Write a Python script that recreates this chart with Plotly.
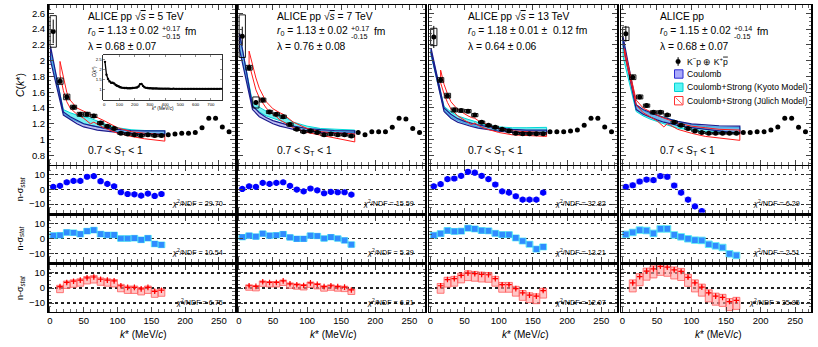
import plotly.graph_objects as go

# ---------------- data ----------------
K_DATA = [5, 15, 25, 35, 45, 55, 65, 75, 85, 95, 105, 115, 125, 135, 145, 155, 165,
          175, 185, 195, 205, 215, 225, 235, 245, 255, 265]

C_5TEV = [2.37, 1.74, 1.54, 1.41, 1.32, 1.32, 1.30, 1.21, 1.17, 1.14, 1.08, 1.07, 1.06, 1.05,
          1.06, 1.05, 1.05, 1.06, 1.07, 1.08, 1.08, 1.09, 1.15, 1.27, 1.27, 1.16, 1.10]
C_7TEV = [2.31, 1.91, 1.47, 1.50, 1.35, 1.32, 1.29, 1.19, 1.13, 1.10, 1.11, 1.09, 1.06, 1.07,
          1.06, 1.06, 1.045, 1.09, 1.06, 1.10, 1.10, 1.10, 1.155, 1.27, 1.26, 1.14, 1.09]
C_13TEV = [2.30, 1.755, 1.556, 1.375, 1.367, 1.36, 1.31, 1.22, 1.18, 1.155, 1.13, 1.11, 1.08,
           1.075, 1.075, 1.075, 1.075, 1.10, 1.10, 1.10, 1.11, 1.12, 1.18, 1.27, 1.27, 1.16, 1.10]
C_ALL = [2.34, 1.79, 1.54, 1.43, 1.345, 1.345, 1.31, 1.22, 1.18, 1.14, 1.11, 1.09, 1.08, 1.08,
         1.08, 1.08, 1.08, 1.09, 1.09, 1.10, 1.10, 1.12, 1.16, 1.27, 1.27, 1.155, 1.10]

STAT_5TEV = [0.15, 0.04, 0.03, 0.02, 0.02, 0.02, 0.015, 0.015, 0.012, 0.012, 0.01, 0.01, 0.01,
             0.01, 0.01, 0.01, 0.01, 0.01, 0.01, 0.01, 0.01, 0.01, 0.01, 0.012, 0.012, 0.01, 0.01]
STAT_7TEV = [0.12, 0.04, 0.03, 0.02, 0.02, 0.02, 0.015, 0.015, 0.012, 0.012, 0.01, 0.01, 0.01,
             0.01, 0.01, 0.01, 0.01, 0.01, 0.01, 0.01, 0.01, 0.01, 0.01, 0.012, 0.012, 0.01, 0.01]
STAT_13TEV = [0.14, 0.03, 0.02, 0.015, 0.015, 0.012, 0.01, 0.01, 0.01, 0.01, 0.008, 0.008, 0.008,
              0.008, 0.008, 0.008, 0.008, 0.008, 0.008, 0.008, 0.008, 0.008, 0.008, 0.01, 0.01, 0.008, 0.008]
STAT_ALL = [0.10, 0.03, 0.02, 0.015, 0.012, 0.01, 0.01, 0.008, 0.008, 0.008, 0.006, 0.006, 0.006,
            0.006, 0.006, 0.006, 0.006, 0.006, 0.006, 0.006, 0.006, 0.006, 0.006, 0.008, 0.008, 0.006, 0.006]

# systematic uncertainties (boxes) for the fitted range k* < 170 MeV/c
SYST_5TEV = [0.20, 0.04, 0.035, 0.025, 0.025, 0.025, 0.02, 0.02, 0.015, 0.015, 0.015, 0.015,
             0.015, 0.015, 0.015, 0.015, 0.015]
SYST_7TEV = [0.27, 0.03, 0.07, 0.025, 0.02, 0.02, 0.02, 0.02, 0.015, 0.015, 0.015, 0.015,
             0.015, 0.015, 0.015, 0.015, 0.015]
SYST_13TEV = [0.11, 0.03, 0.03, 0.025, 0.02, 0.02, 0.02, 0.015, 0.015, 0.015, 0.015, 0.015,
              0.015, 0.015, 0.015, 0.015, 0.015]
SYST_ALL = [0.085, 0.03, 0.025, 0.02, 0.02, 0.02, 0.015, 0.015, 0.015, 0.015, 0.012, 0.012,
            0.012, 0.012, 0.012, 0.012, 0.012]

# model bands
K_MODEL = [1, 20, 30, 40, 50, 60, 70, 80, 100, 120, 140, 170]
COUL_LO_5TEV = [2.00, 1.31, 1.25, 1.20, 1.16, 1.14, 1.12, 1.11, 1.09, 1.08, 1.07, 1.07]
COUL_HI_5TEV = [2.18, 1.35, 1.29, 1.24, 1.20, 1.18, 1.16, 1.145, 1.13, 1.115, 1.11, 1.11]
KYOTO_LO_5TEV = [2.05, 1.33, 1.27, 1.23, 1.20, 1.18, 1.16, 1.14, 1.10, 1.08, 1.075, 1.075]
KYOTO_HI_5TEV = [2.13, 1.38, 1.34, 1.31, 1.29, 1.27, 1.235, 1.20, 1.15, 1.125, 1.115, 1.11]
COUL_LO_7TEV = [2.14, 1.38, 1.29, 1.24, 1.20, 1.17, 1.15, 1.13, 1.11, 1.09, 1.085, 1.08]
COUL_HI_7TEV = [2.35, 1.43, 1.34, 1.28, 1.24, 1.21, 1.19, 1.17, 1.14, 1.125, 1.115, 1.11]
KYOTO_LO_7TEV = [2.16, 1.42, 1.35, 1.30, 1.27, 1.24, 1.21, 1.17, 1.13, 1.11, 1.10, 1.09]
KYOTO_HI_7TEV = [2.33, 1.47, 1.41, 1.36, 1.33, 1.30, 1.27, 1.22, 1.17, 1.14, 1.13, 1.12]
COUL_LO_13TEV = [2.09, 1.355, 1.27, 1.22, 1.19, 1.165, 1.145, 1.13, 1.105, 1.09, 1.085, 1.08]
COUL_HI_13TEV = [2.16, 1.40, 1.32, 1.265, 1.23, 1.205, 1.185, 1.17, 1.145, 1.13, 1.12, 1.12]
KYOTO_LO_13TEV = [2.07, 1.375, 1.29, 1.24, 1.21, 1.18, 1.16, 1.14, 1.11, 1.10, 1.10, 1.10]
KYOTO_HI_13TEV = [2.13, 1.42, 1.35, 1.30, 1.27, 1.24, 1.21, 1.19, 1.16, 1.15, 1.15, 1.155]
COUL_LO_ALL = [2.20, 1.38, 1.32, 1.28, 1.25, 1.22, 1.20, 1.18, 1.15, 1.13, 1.11, 1.08]
COUL_HI_ALL = [2.30, 1.44, 1.38, 1.34, 1.31, 1.28, 1.25, 1.23, 1.20, 1.185, 1.175, 1.17]
KYOTO_LO_ALL = [2.05, 1.355, 1.30, 1.26, 1.23, 1.20, 1.17, 1.145, 1.12, 1.10, 1.09, 1.08]
KYOTO_HI_ALL = [2.26, 1.42, 1.37, 1.33, 1.31, 1.28, 1.25, 1.23, 1.19, 1.165, 1.16, 1.155]

K_JUL = [15, 20, 25, 30, 40, 50, 55, 60, 65, 70, 80, 100, 120, 140, 170]
JUL_HI_5TEV = [1.99, 1.80, 1.60, 1.50, 1.40, 1.36, 1.34, 1.32, 1.31, 1.28, 1.24, 1.15, 1.10, 1.08, 1.06]
JUL_LO_5TEV = [1.82, 1.62, 1.48, 1.40, 1.32, 1.27, 1.24, 1.20, 1.22, 1.19, 1.15, 1.08, 1.04, 1.01, 0.98]
JUL_HI_7TEV = [2.12, 1.95, 1.78, 1.65, 1.48, 1.39, 1.36, 1.34, 1.32, 1.29, 1.22, 1.14, 1.10, 1.085, 1.07]
JUL_LO_7TEV = [1.96, 1.78, 1.63, 1.53, 1.40, 1.32, 1.29, 1.25, 1.23, 1.20, 1.15, 1.09, 1.05, 1.02, 0.97]
JUL_HI_13TEV = [1.88, 1.70, 1.58, 1.48, 1.38, 1.32, 1.30, 1.28, 1.27, 1.24, 1.20, 1.14, 1.11, 1.10, 1.09]
JUL_LO_13TEV = [1.72, 1.58, 1.47, 1.39, 1.30, 1.25, 1.22, 1.19, 1.21, 1.18, 1.14, 1.09, 1.06, 1.05, 1.04]
K_JUL_ALL = [3, 20, 30, 40, 50, 55, 60, 65, 70, 80, 100, 120, 140, 170]
JUL_HI_ALL = [2.15, 1.50, 1.40, 1.35, 1.31, 1.29, 1.27, 1.26, 1.24, 1.21, 1.17, 1.15, 1.13, 1.12]
JUL_LO_ALL = [2.08, 1.44, 1.34, 1.29, 1.24, 1.20, 1.16, 1.20, 1.18, 1.13, 1.08, 1.04, 1.02, 0.99]

# n-sigma deviations
K_RES = [5, 15, 25, 35, 45, 55, 65, 75, 85, 95, 105, 115, 125, 135, 145, 155, 165]
NS_COUL_5TEV = [1.6, 2.3, 4.7, 5.6, 5.6, 8.4, 8.8, 5.4, 3.6, 2.0, -2.0, -3.2, -3.4, -4.3, -2.9, -4.5, -3.2]
NS_KYOTO_5TEV = [2.0, 2.2, 4.1, 3.9, 3.0, 5.0, 5.7, 3.0, 2.4, 2.4, 0.0, 0.0, 0.2, -0.9, 0.2, -3.7, -4.3]
NS_JUL_5TEV = [0.9, 3.7, 4.5, 5.2, 6.7, 7.3, 5.8, 5.2, 4.7, 1.5, 0.4, 0.4, -0.6, 0.4, -2.2, -1.5]
NS_COUL_7TEV = [0.2, 2.0, 1.6, 4.3, 3.6, 4.3, 4.7, 2.3, -0.2, -1.4, 0.5, -0.7, -2.7, -1.8, -2.0, -2.0, -3.6]
NS_KYOTO_7TEV = [0.9, 2.0, 1.3, 3.3, 2.0, 2.2, 3.0, 0.7, -0.2, -0.2, 2.0, 1.7, 0.0, 0.9, 0.0, -1.3, -4.1]
NS_JUL_7TEV = [1.5, 1.1, 4.1, 3.7, 3.7, 4.7, 2.8, 2.2, 1.7, 3.4, 2.4, 0.9, 1.5, 0.9, 0.6, -1.3]
NS_COUL_13TEV = [2.0, 3.4, 6.8, 7.2, 9.0, 11.7, 11.1, 9.0, 6.8, 3.2, -1.4, -2.3, -4.7, -7.0, -7.0, -7.0, -2.3]
NS_KYOTO_13TEV = [2.2, 3.3, 5.4, 4.8, 5.0, 7.0, 6.5, 5.4, 5.2, 3.5, 2.6, 2.6, 0.4, -1.7, -3.9, -7.2, -5.7]
NS_JUL_13TEV = [1.5, 5.6, 6.2, 8.4, 9.9, 9.5, 9.0, 8.8, 6.2, 2.2, 2.2, -0.4, -3.2, -4.7, -5.4, -1.7]
NS_COUL_ALL = [1.6, 2.7, 5.2, 6.5, 6.1, 8.8, 8.4, 2.5, -2.3, -7.0, -11.5, -14.7]
NS_KYOTO_ALL = [2.8, 4.1, 5.7, 5.4, 3.5, 6.5, 6.5, 2.4, 1.1, -0.2, -1.1, -1.3, -3.9, -5.0, -6.1, -10.4, -11.5]
NS_JUL_ALL = [3.4, 7.5, 11.2, 12.7, 14.4, 13.8, 12.0, 11.0, 7.1, 3.4, 0.6, -3.2, -5.4, -6.2, -9.0, -8.2]

# model-uncertainty extent of the n-sigma boxes (per panel: 5, 7, 13 TeV, combined)
NS_COUL_BOX = [1.5, 1.4, 1.6, 1.8]
NS_KYOTO_BOX = [1.9, 1.8, 2.0, 2.2]
NS_JUL_BOX_UP = [0.9, 0.6, 1.5, 2.0]
NS_JUL_BOX_DN = [4.0, 3.0, 5.0, 6.0]
NS_JUL_ERR = [0.9, 0.8, 0.9, 1.0]

CHI2_COUL = ["29.70", "15.59", "32.82", "6.29"]
CHI2_KYOTO = ["10.54", "5.39", "13.21", "2.51"]
CHI2_JUL = ["6.75", "6.21", "12.07", "35.85"]

ENERGIES = ["5", "7", "13", None]
R0_VAL = ["1.13 ± 0.02", "1.13 ± 0.02", "1.18 ± 0.01 ±  0.12", "1.15 ± 0.02"]
R0_UP = ["+0.17", "+0.17", None, "+0.14"]
R0_DN = ["−0.15", "-0.15", None, "-0.15"]
LAMBDA = ["0.68 ± 0.07", "0.76 ± 0.08", "0.64 ± 0.06", "0.68 ± 0.07"]

# inset: full k* range (5 TeV)
INSET_K = list(range(5, 785, 10))
INSET_C = [2.40, 1.74, 1.52, 1.40, 1.33, 1.33, 1.29, 1.22, 1.17, 1.14,
           1.10, 1.08, 1.07, 1.06, 1.06, 1.05, 1.05, 1.05, 1.06, 1.07,
           1.08, 1.09, 1.14, 1.26, 1.27, 1.17, 1.10, 1.07, 1.06, 1.05,
           1.05, 1.04, 1.04, 1.04, 1.04, 1.03, 1.03, 1.03, 1.03, 1.03,
           1.03, 1.03, 1.03, 1.02, 1.02, 1.03, 1.02, 1.02, 1.02, 1.02,
           1.02, 1.02, 1.02, 1.02, 1.02, 1.02, 1.02, 1.02, 1.02, 1.02,
           1.02, 1.02, 1.02, 1.02, 1.02, 1.02, 1.02, 1.02, 1.02, 1.02,
           1.02, 1.02, 1.02, 1.02, 1.02, 1.02, 1.02, 1.02]

X_TICKS = [0, 50, 100, 150, 200, 250]
Y_TICKS_MAIN = [0.8, 1.0, 1.2, 1.4, 1.6, 1.8, 2.0, 2.2, 2.4, 2.6]
Y_TICK_TEXT_MAIN = ["0.8", "1", "1.2", "1.4", "1.6", "1.8", "2", "2.2", "2.4", "2.6"]
Y_TICKS_RES = [-10, 0, 10]

PANELS = [
    dict(c=C_5TEV, stat=STAT_5TEV, syst=SYST_5TEV, clo=COUL_LO_5TEV, chi=COUL_HI_5TEV,
         klo=KYOTO_LO_5TEV, khi=KYOTO_HI_5TEV, kj=K_JUL, jlo=JUL_LO_5TEV, jhi=JUL_HI_5TEV,
         ns=[NS_COUL_5TEV, NS_KYOTO_5TEV, NS_JUL_5TEV]),
    dict(c=C_7TEV, stat=STAT_7TEV, syst=SYST_7TEV, clo=COUL_LO_7TEV, chi=COUL_HI_7TEV,
         klo=KYOTO_LO_7TEV, khi=KYOTO_HI_7TEV, kj=K_JUL, jlo=JUL_LO_7TEV, jhi=JUL_HI_7TEV,
         ns=[NS_COUL_7TEV, NS_KYOTO_7TEV, NS_JUL_7TEV]),
    dict(c=C_13TEV, stat=STAT_13TEV, syst=SYST_13TEV, clo=COUL_LO_13TEV, chi=COUL_HI_13TEV,
         klo=KYOTO_LO_13TEV, khi=KYOTO_HI_13TEV, kj=K_JUL, jlo=JUL_LO_13TEV, jhi=JUL_HI_13TEV,
         ns=[NS_COUL_13TEV, NS_KYOTO_13TEV, NS_JUL_13TEV]),
    dict(c=C_ALL, stat=STAT_ALL, syst=SYST_ALL, clo=COUL_LO_ALL, chi=COUL_HI_ALL,
         klo=KYOTO_LO_ALL, khi=KYOTO_HI_ALL, kj=K_JUL_ALL, jlo=JUL_LO_ALL, jhi=JUL_HI_ALL,
         ns=[NS_COUL_ALL, NS_KYOTO_ALL, NS_JUL_ALL]),
]

# ---------------- layout geometry ----------------
W, H = 818, 347
COLS = [(48.5, 234.5), (237.5, 425.0), (429.0, 617.0), (621.0, 811.0)]
ROWS = [(5.0, 164.5), (166.0, 212.5), (215.5, 261.5), (264.5, 311.5)]
FONT = "Liberation Sans, Arial, sans-serif"


def px(x):
    return x / W


def py(y):
    return 1 - y / H


def rects(xc, yc, hw, dn, up):
    xs, ys = [], []
    for x, y, d, u in zip(xc, yc, dn, up):
        xs += [x - hw, x + hw, x + hw, x - hw, x - hw, None]
        ys += [y - d, y - d, y + u, y + u, y - d, None]
    return xs, ys


def band(k, lo, hi):
    xs = list(k) + list(k[::-1]) + [k[0]]
    ys = list(hi) + list(lo[::-1]) + [hi[0]]
    return xs, ys


fig = go.Figure()
layout = dict(width=W, height=H, margin=dict(l=0, r=0, t=0, b=0),
              paper_bgcolor="white", plot_bgcolor="white", showlegend=False,
              font=dict(family=FONT, color="black"))
annotations = []
shapes = []

RES_STYLE = [
    dict(mcolor="#0000ff", symbol="circle", msize=5, fill="rgba(110,110,255,0.6)", line="rgba(110,110,255,0.0)"),
    dict(mcolor="#2f8cff", symbol="square", msize=4.5, fill="rgba(140,250,255,0.9)", line="rgba(60,225,240,1)"),
    dict(mcolor="#ff0000", symbol="cross-thin", msize=4, fill="rgba(255,160,160,0.6)", line="rgba(255,90,90,1)"),
]

for c, P in enumerate(PANELS):
    for r in range(4):
        n = r * 4 + c + 1
        xa = "x" if n == 1 else f"x{n}"
        ya = "y" if n == 1 else f"y{n}"
        xkey = "xaxis" if n == 1 else f"xaxis{n}"
        ykey = "yaxis" if n == 1 else f"yaxis{n}"
        layout[xkey] = dict(domain=[px(COLS[c][0]), px(COLS[c][1])], range=[-2, 273], anchor=ya,
                            showline=True, linecolor="black", linewidth=1.5, mirror="ticks",
                            ticks="inside", ticklen=5, tickwidth=1, tickvals=X_TICKS,
                            minor=dict(ticks="inside", ticklen=2.5, tickwidth=0.8, dtick=10, tick0=0),
                            showticklabels=(r == 3), tickfont=dict(size=9.5, family=FONT),
                            zeroline=False, showgrid=False, fixedrange=True)
        if r == 0:
            layout[ykey] = dict(domain=[py(ROWS[r][1]), py(ROWS[r][0])], range=[0.684, 2.705], anchor=xa,
                                showline=True, linecolor="black", linewidth=1.5, mirror="ticks",
                                ticks="inside", ticklen=5, tickwidth=1, tickvals=Y_TICKS_MAIN,
                                ticktext=Y_TICK_TEXT_MAIN,
                                minor=dict(ticks="inside", ticklen=2.5, tickwidth=0.8, dtick=0.05, tick0=0),
                                showticklabels=(c == 0), tickfont=dict(size=9.5, family=FONT),
                                zeroline=False, showgrid=False, fixedrange=True)
        else:
            layout[ykey] = dict(domain=[py(ROWS[r][1]), py(ROWS[r][0])], range=[-15.6, 15.6], anchor=xa,
                                showline=True, linecolor="black", linewidth=1.5, mirror="ticks",
                                ticks="inside", ticklen=5, tickwidth=1, tickvals=Y_TICKS_RES,
                                minor=dict(ticks="inside", ticklen=2.5, tickwidth=0.8, dtick=2.5, tick0=0),
                                showticklabels=(c == 0), tickfont=dict(size=9.5, family=FONT),
                                zeroline=False, showgrid=True, gridcolor="#222222", griddash="dot",
                                gridwidth=1.2, fixedrange=True)

        if r == 0:
            # model bands
            bx, by = band(K_MODEL, P["klo"], P["khi"])
            fig.add_trace(go.Scatter(x=bx, y=by, xaxis=xa, yaxis=ya, mode="lines", fill="toself",
                                     fillcolor="rgba(60,235,235,0.7)",
                                     line=dict(color="#00d8d8", width=1), hoverinfo="skip"))
            bx, by = band(K_MODEL, P["clo"], P["chi"])
            fig.add_trace(go.Scatter(x=bx, y=by, xaxis=xa, yaxis=ya, mode="lines", fill="toself",
                                     fillcolor="rgba(110,110,230,0.45)",
                                     line=dict(color="#1c1c8c", width=1.2), hoverinfo="skip"))
            bx, by = band(P["kj"], P["jlo"], P["jhi"])
            fig.add_trace(go.Scatter(x=bx, y=by, xaxis=xa, yaxis=ya, mode="lines",
                                     line=dict(color="#ff1a1a", width=1), hoverinfo="skip"))
            # systematic boxes
            nb = len(P["syst"])
            sx, sy = rects(K_DATA[:nb], P["c"][:nb], 4.6, P["syst"], P["syst"])
            fig.add_trace(go.Scatter(x=sx, y=sy, xaxis=xa, yaxis=ya, mode="lines",
                                     line=dict(color="black", width=0.9), hoverinfo="skip"))
            # data
            fig.add_trace(go.Scatter(x=K_DATA, y=P["c"], xaxis=xa, yaxis=ya, mode="markers",
                                     marker=dict(color="black", size=5, symbol="circle"),
                                     error_y=dict(type="data", array=P["stat"], color="black",
                                                  thickness=1, width=0)))
        else:
            m = r - 1
            vals = P["ns"][m]
            ks = K_RES[:len(vals)] if m < 2 else K_RES[1:1 + len(vals)]
            st = RES_STYLE[m]
            if m == 0:
                up = [NS_COUL_BOX[c]] * len(vals)
                dn = up
            elif m == 1:
                up = [NS_KYOTO_BOX[c]] * len(vals)
                dn = up
            else:
                up = [NS_JUL_BOX_UP[c]] * len(vals)
                dn = [NS_JUL_BOX_DN[c]] * len(vals)
            bx, by = rects(ks, vals, 5, dn, up)
            fig.add_trace(go.Scatter(x=bx, y=by, xaxis=xa, yaxis=ya, mode="lines", fill="toself",
                                     fillcolor=st["fill"], line=dict(color=st["line"], width=0.8),
                                     hoverinfo="skip"))
            kw = {}
            if m == 2:
                kw["error_y"] = dict(type="data", array=[NS_JUL_ERR[c]] * len(vals), color="#ff0000",
                                     thickness=1.2, width=0)
            fig.add_trace(go.Scatter(x=ks, y=vals, xaxis=xa, yaxis=ya, mode="markers",
                                     marker=dict(color=st["mcolor"], size=st["msize"], symbol=st["symbol"],
                                                 line=dict(color=st["mcolor"], width=1.2)), **kw))
            chi = [CHI2_COUL, CHI2_KYOTO, CHI2_JUL][m][c]
            annotations.append(dict(x=px(COLS[c][1] - 9), y=py(ROWS[r][1] - 9.3), xref="paper", yref="paper",
                                    text=f"<i>χ</i><sup>2</sup>/NDF = {chi}", showarrow=False,
                                    xanchor="right", yanchor="middle", font=dict(size=7.2, family=FONT)))

    # ---- text in the correlation panel ----
    x0 = COLS[c][0] + 37
    if ENERGIES[c] is not None:
        t1 = ("ALICE pp √<span style='text-decoration:overline'><i>s</i></span> = "
              f"{ENERGIES[c]} TeV")
    else:
        t1 = "ALICE pp"
    annotations.append(dict(x=px(x0), y=py(16.7), xref="paper", yref="paper", text=t1, showarrow=False,
                            xanchor="left", yanchor="middle", font=dict(size=10.3, family=FONT)))
    if R0_UP[c] is not None:
        annotations.append(dict(x=px(x0), y=py(31.7), xref="paper", yref="paper",
                                text=f"<i>r</i><sub>0</sub> = {R0_VAL[c]}", showarrow=False,
                                xanchor="left", yanchor="middle", font=dict(size=10.3, family=FONT)))
        annotations.append(dict(x=px(x0 + 74), y=py(28.3), xref="paper", yref="paper", text=R0_UP[c],
                                showarrow=False, xanchor="left", yanchor="middle",
                                font=dict(size=7.2, family=FONT)))
        annotations.append(dict(x=px(x0 + 74), y=py(36.0), xref="paper", yref="paper", text=R0_DN[c],
                                showarrow=False, xanchor="left", yanchor="middle",
                                font=dict(size=7.2, family=FONT)))
        annotations.append(dict(x=px(x0 + 97), y=py(31.7), xref="paper", yref="paper", text="fm",
                                showarrow=False, xanchor="left", yanchor="middle",
                                font=dict(size=10.3, family=FONT)))
    else:
        annotations.append(dict(x=px(x0), y=py(31.7), xref="paper", yref="paper",
                                text=f"<i>r</i><sub>0</sub> = {R0_VAL[c]} fm", showarrow=False,
                                xanchor="left", yanchor="middle", font=dict(size=10.3, family=FONT)))
    annotations.append(dict(x=px(x0), y=py(46.0), xref="paper", yref="paper", text=f"λ = {LAMBDA[c]}",
                            showarrow=False, xanchor="left", yanchor="middle",
                            font=dict(size=10.3, family=FONT)))
    annotations.append(dict(x=px(x0), y=py(151.7), xref="paper", yref="paper",
                            text="0.7 < <i>S</i><sub>T</sub> < 1", showarrow=False,
                            xanchor="left", yanchor="middle", font=dict(size=10.3, family=FONT)))
    # x-axis title
    annotations.append(dict(x=px((COLS[c][0] + COLS[c][1]) / 2 + 2), y=py(334.3), xref="paper", yref="paper",
                            text="<i>k</i>* (MeV/<i>c</i>)", showarrow=False, xanchor="center",
                            yanchor="middle", font=dict(size=10, family=FONT)))

# y-axis titles
annotations.append(dict(x=px(20), y=py(85), xref="paper", yref="paper", text="<i>C</i>(<i>k</i>*)",
                        showarrow=False, textangle=-90, xanchor="center", yanchor="middle",
                        font=dict(size=10.5, family=FONT)))
for r in range(1, 4):
    annotations.append(dict(x=px(20), y=py((ROWS[r][0] + ROWS[r][1]) / 2), xref="paper", yref="paper",
                            text="n-σ<sub><i>stat</i></sub>", showarrow=False, textangle=-90,
                            xanchor="center", yanchor="middle", font=dict(size=9, family=FONT)))

# ---- inset (full k* range) ----
layout["xaxis17"] = dict(domain=[px(103.3), px(222.3)], range=[-6, 775], anchor="y17",
                         showline=True, linecolor="black", linewidth=0.8, mirror="ticks",
                         ticks="inside", ticklen=2, tickwidth=0.6, tickvals=[0, 100, 200, 300, 400, 500, 600, 700],
                         tickfont=dict(size=4.3, family=FONT), zeroline=False, showgrid=False, fixedrange=True)
layout["yaxis17"] = dict(domain=[py(100), py(55)], range=[0.45, 2.75], anchor="x17",
                         showline=True, linecolor="black", linewidth=0.8, mirror="ticks",
                         ticks="inside", ticklen=2, tickwidth=0.6, tickvals=[1, 1.5, 2, 2.5],
                         tickfont=dict(size=4.3, family=FONT), zeroline=False, showgrid=False, fixedrange=True)
fig.add_trace(go.Scatter(x=INSET_K, y=INSET_C, xaxis="x17", yaxis="y17", mode="lines+markers",
                         line=dict(color="black", width=1.3), marker=dict(color="black", size=2.4)))
annotations.append(dict(x=px(162.8), y=py(108.3), xref="paper", yref="paper",
                        text="<i>k</i>* (MeV/<i>c</i>)", showarrow=False, xanchor="center",
                        yanchor="middle", font=dict(size=4.6, family=FONT)))
annotations.append(dict(x=px(95.0), y=py(72), xref="paper", yref="paper", text="<i>C</i>(<i>k</i>*)",
                        showarrow=False, textangle=-90, xanchor="center", yanchor="middle",
                        font=dict(size=4.6, family=FONT)))

# ---- legend (drawn in panel 4) ----
LEG_TEXT = ["K<sup>−</sup>p ⊕ K<sup>+</sup><span style='text-decoration:overline'>p</span>",
            "Coulomb", "Coulomb+Strong (Kyoto Model)", "Coulomb+Strong (Jülich Model)"]
LEG_Y = [61.5, 74.0, 87.3, 100.7]
for t, yy in zip(LEG_TEXT, LEG_Y):
    annotations.append(dict(x=px(685), y=py(yy), xref="paper", yref="paper", text=t, showarrow=False,
                            xanchor="left", yanchor="middle", font=dict(size=8.6, family=FONT)))
shapes.append(dict(type="circle", xref="paper", yref="paper", x0=px(675.8), x1=px(680.4),
                   y0=py(63.8), y1=py(59.2), fillcolor="black", line=dict(color="black", width=0.5)))
shapes.append(dict(type="line", xref="paper", yref="paper", x0=px(678.1), x1=px(678.1),
                   y0=py(65.8), y1=py(57.2), line=dict(color="black", width=1)))
LEG_BOX = [("rgba(170,170,250,1)", "#2a2ad0"), ("rgba(90,245,245,1)", "#00d0d0"), ("white", "#ff3030")]
for (fc, lc), yy in zip(LEG_BOX, LEG_Y[1:]):
    shapes.append(dict(type="rect", xref="paper", yref="paper", x0=px(674.5), x1=px(683),
                       y0=py(yy + 4.2), y1=py(yy - 4.2), fillcolor=fc, line=dict(color=lc, width=1)))
shapes.append(dict(type="line", xref="paper", yref="paper", x0=px(675.5), x1=px(682),
                   y0=py(LEG_Y[3] - 3.2), y1=py(LEG_Y[3] + 3.2), line=dict(color="#ff3030", width=0.8)))

layout["annotations"] = annotations
layout["shapes"] = shapes
fig.update_layout(**layout)
fig.write_html("out.html", config={"displayModeBar": False, "staticPlot": True},
               post_script="document.body.style.margin='0px';")
